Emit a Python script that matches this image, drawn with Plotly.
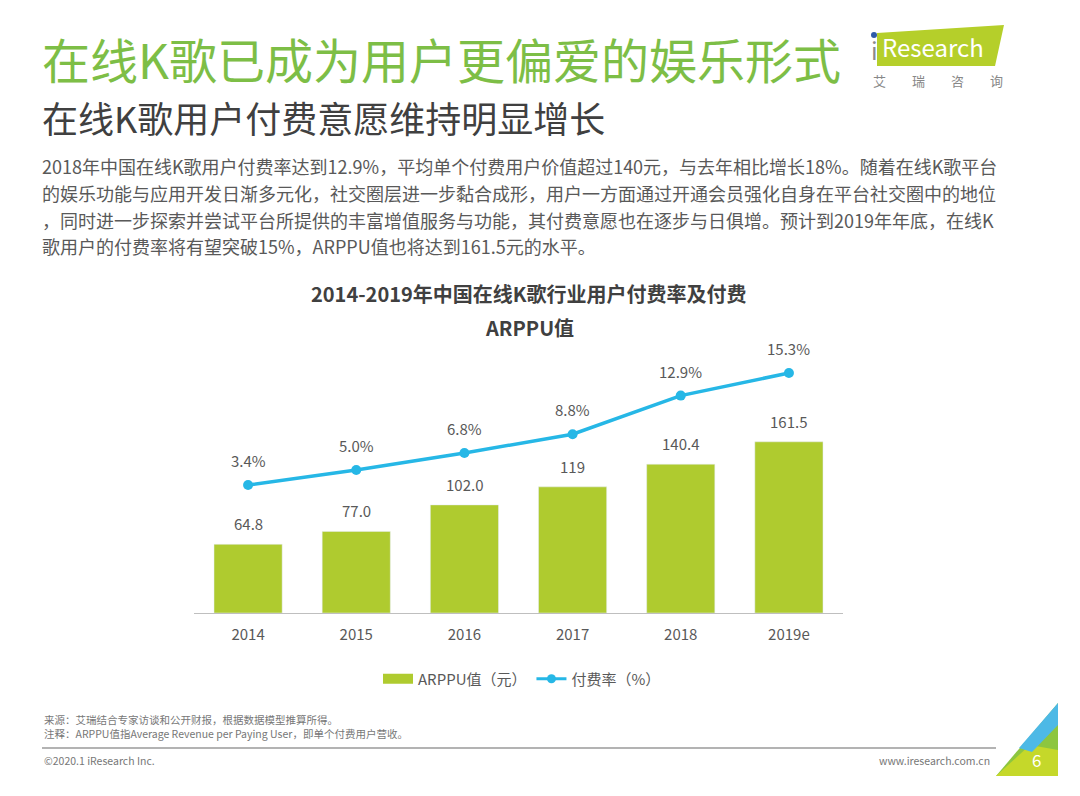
import plotly.graph_objects as go

W, H = 1080, 796

years = ["2014", "2015", "2016", "2017", "2018", "2019e"]
arppu = [64.8, 77.0, 102.0, 119, 140.4, 161.5]
arppu_labels = ["64.8", "77.0", "102.0", "119", "140.4", "161.5"]
pay_rate = [3.4, 5.0, 6.8, 8.8, 12.9, 15.3]
pay_rate_labels = ["3.4%", "5.0%", "6.8%", "8.8%", "12.9%", "15.3%"]

title_main = "在线K歌已成为用户更偏爱的娱乐形式"
title_sub = "在线K歌用户付费意愿维持明显增长"
paragraph = [
    "2018年中国在线K歌用户付费率达到12.9%，平均单个付费用户价值超过140元，与去年相比增长18%。随着在线K歌平台",
    "的娱乐功能与应用开发日渐多元化，社交圈层进一步黏合成形，用户一方面通过开通会员强化自身在平台社交圈中的地位",
    "，同时进一步探索并尝试平台所提供的丰富增值服务与功能，其付费意愿也在逐步与日俱增。预计到2019年年底，在线K",
    "歌用户的付费率将有望突破15%，ARPPU值也将达到161.5元的水平。",
]
chart_title = ["2014-2019年中国在线K歌行业用户付费率及付费", "ARPPU值"]
legend_names = ["ARPPU值（元）", "付费率（%）"]
source_lines = [
    "来源：艾瑞结合专家访谈和公开财报，根据数据模型推算所得。",
    "注释：ARPPU值指Average Revenue per Paying User，即单个付费用户营收。",
]

FONT = "Noto Sans CJK SC, Noto Sans, sans-serif"
GREEN = "#AFCB2F"
BLUE = "#26B7E6"
GRAY = "#595959"

xpos = list(range(len(years)))


def px(x):
    return x / W


def py(y):
    return 1 - y / H


fig = go.Figure()

fig.add_trace(go.Bar(
    x=xpos, y=arppu, marker_color=GREEN, width=0.63,
    showlegend=False, hoverinfo="skip", yaxis="y",
))
fig.add_trace(go.Scatter(
    x=xpos, y=pay_rate, mode="lines+markers", yaxis="y2",
    line=dict(color=BLUE, width=3.5), marker=dict(size=10, color=BLUE),
    showlegend=False,
))
# legend entries
fig.add_trace(go.Scatter(
    x=[None], y=[None], mode="lines", name=legend_names[0],
    line=dict(color=GREEN, width=11),
))
fig.add_trace(go.Scatter(
    x=[None], y=[None], mode="lines+markers", name=legend_names[1],
    line=dict(color=BLUE, width=3), marker=dict(size=9, color=BLUE), yaxis="y2",
))

ann = []
for c, v, t in zip(xpos, arppu, arppu_labels):
    ann.append(dict(x=c, y=v, xref="x", yref="y", text=t, showarrow=False,
                    yanchor="bottom", yshift=8,
                    font=dict(family=FONT, size=15, color=GRAY)))
for c, v, t in zip(xpos, pay_rate, pay_rate_labels):
    ann.append(dict(x=c, y=v, xref="x", yref="y2", text=t, showarrow=False,
                    yanchor="bottom", yshift=12,
                    font=dict(family=FONT, size=15, color=GRAY)))

ann.append(dict(x=px(40), y=py(58), xref="paper", yref="paper", text=title_main,
                showarrow=False, xanchor="left", yanchor="middle",
                font=dict(family=FONT, size=48, color="#7DBE46")))
ann.append(dict(x=px(40), y=py(117), xref="paper", yref="paper", text=title_sub,
                showarrow=False, xanchor="left", yanchor="middle",
                font=dict(family=FONT, size=36, color="#404040")))
for i, line in enumerate(paragraph):
    ann.append(dict(x=px(40), y=py(166 + i * 26.8), xref="paper", yref="paper", text=line,
                    showarrow=False, xanchor="left", yanchor="middle",
                    font=dict(family=FONT, size=18, color=GRAY)))
for i, line in enumerate(chart_title):
    ann.append(dict(x=px(529), y=py(293 + i * 34), xref="paper", yref="paper",
                    text="<b>" + line + "</b>", showarrow=False,
                    xanchor="center", yanchor="middle",
                    font=dict(family=FONT, size=20, color="#404040")))
for i, line in enumerate(source_lines):
    ann.append(dict(x=px(42), y=py(719 + i * 14), xref="paper", yref="paper", text=line,
                    showarrow=False, xanchor="left", yanchor="middle",
                    font=dict(family=FONT, size=10.5, color="#777777")))
ann.append(dict(x=px(42), y=py(760), xref="paper", yref="paper", text="©2020.1 iResearch Inc.",
                showarrow=False, xanchor="left", yanchor="middle",
                font=dict(family=FONT, size=10.5, color="#777777")))
ann.append(dict(x=px(992), y=py(760), xref="paper", yref="paper", text="www.iresearch.com.cn",
                showarrow=False, xanchor="right", yanchor="middle",
                font=dict(family=FONT, size=10.5, color="#777777")))
ann.append(dict(x=px(1036), y=py(759), xref="paper", yref="paper", text="6",
                showarrow=False, xanchor="center", yanchor="middle",
                font=dict(family=FONT, size=17, color="white")))
# logo text
ann.append(dict(x=px(880), y=py(47), xref="paper", yref="paper", text="Research",
                showarrow=False, xanchor="left", yanchor="middle",
                font=dict(family=FONT, size=24, color="white")))
ann.append(dict(x=px(874), y=py(50), xref="paper", yref="paper", text="i",
                showarrow=False, xanchor="center", yanchor="middle",
                font=dict(family=FONT, size=24, color="#8a8a8a")))
ann.append(dict(x=px(938), y=py(81), xref="paper", yref="paper", text="艾　　瑞　　咨　　询",
                showarrow=False, xanchor="center", yanchor="middle",
                font=dict(family=FONT, size=13, color="#888888")))

shapes = [
    # logo background
    dict(type="path", xref="paper", yref="paper", layer="below",
         path=f"M {px(877)},{py(33)} L {px(1004)},{py(25)} L {px(995)},{py(66)} L {px(877)},{py(66)} Z",
         fillcolor="#B5CF2A", line=dict(width=0)),
    dict(type="circle", xref="paper", yref="paper",
         x0=px(871), x1=px(877), y0=py(38), y1=py(32),
         fillcolor="#2F5BA8", line=dict(width=0)),
    # footer line
    dict(type="line", xref="paper", yref="paper", x0=px(42), x1=px(996), y0=py(748), y1=py(748),
         line=dict(color="#9a9a9a", width=1.5)),
    # corner triangle
    dict(type="path", xref="paper", yref="paper", layer="below",
         path=f"M {px(996)},{py(776)} L {px(1058)},{py(703)} L {px(1058)},{py(776)} Z",
         fillcolor="#8DC63F", line=dict(width=0)),
    dict(type="path", xref="paper", yref="paper", layer="below",
         path=f"M {px(996)},{py(776)} L {px(1030)},{py(745)} L {px(1058)},{py(750)} L {px(1058)},{py(776)} Z",
         fillcolor="#C5D82A", line=dict(width=0)),
    dict(type="path", xref="paper", yref="paper", layer="below",
         path=f"M {px(1019)},{py(748)} L {px(1058)},{py(703)} L {px(1058)},{py(725)} L {px(1032)},{py(752)} Z",
         fillcolor="#4DB9E6", line=dict(width=0)),
]

fig.update_layout(
    width=W, height=H,
    margin=dict(l=0, r=0, t=0, b=0),
    paper_bgcolor="white", plot_bgcolor="white",
    font=dict(family=FONT, color=GRAY),
    xaxis=dict(type="linear", range=[-0.5, len(years) - 0.5],
               tickmode="array", tickvals=xpos, ticktext=years,
               domain=[px(194), px(843)], showline=True, linecolor="#BFBFBF", linewidth=1.2,
               showgrid=False, zeroline=False, ticks="", tickfont=dict(size=15, color=GRAY),
               ticklabelstandoff=8, fixedrange=True),
    yaxis=dict(domain=[py(613), py(340)], range=[0, 273 / 1.06], visible=False,
               showgrid=False, zeroline=False, fixedrange=True),
    yaxis2=dict(overlaying="y", range=[-(613 - 517) / 9.41, (517 - 340) / 9.41],
                visible=False, showgrid=False, zeroline=False, fixedrange=True),
    legend=dict(orientation="h", x=px(522), xanchor="center", y=py(679), yanchor="middle",
                font=dict(size=15, color=GRAY), itemwidth=30, bgcolor="rgba(0,0,0,0)"),
    annotations=ann,
    shapes=shapes,
)

fig.write_html("out.html")
